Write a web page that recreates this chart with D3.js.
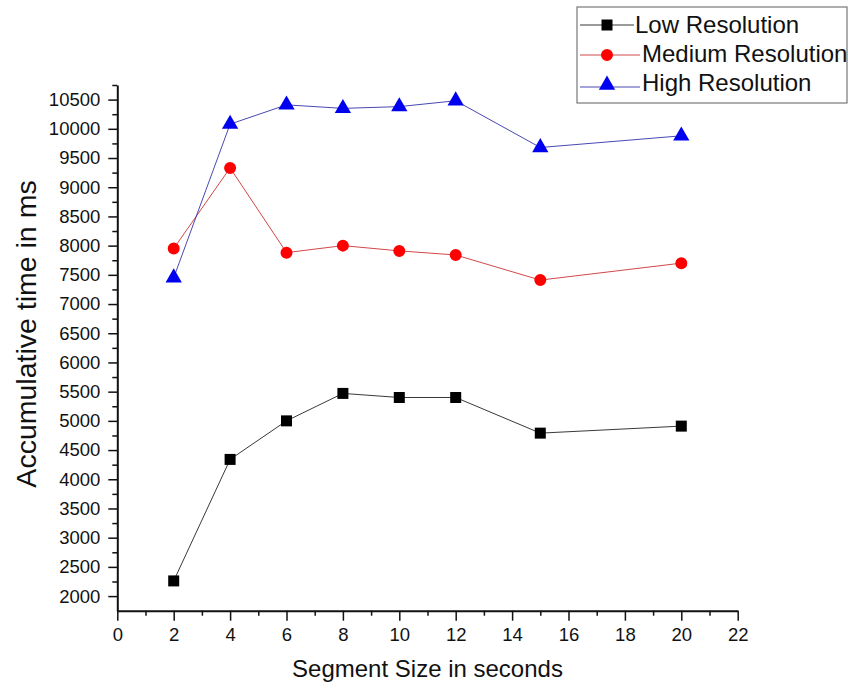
<!DOCTYPE html>
<html lang="en">
<head>
    <meta charset="UTF-8">
    <title>Accumulative time vs segment size</title>
    <script src="https://d3js.org/d3.v7.min.js"></script>
    <style>
        body {margin:0;background:#fff}
        text {font-family:"Liberation Sans", Arial, sans-serif;fill:#111}
    </style>
</head>
<body>
    <div id="chart"></div>
    <script>
        // data
        var segmentSizes = [2, 4, 6, 8, 10, 12, 15, 20];
        var lowRes = [2260, 4340, 5000, 5470, 5400, 5400, 4790, 4910];
        var mediumRes = [7950, 9330, 7880, 8000, 7910, 7840, 7410, 7700];
        var highRes = [7450, 10080, 10410, 10350, 10380, 10480, 9680, 9880];
        var seriesNames = ["Low Resolution", "Medium Resolution", "High Resolution"];

        var xMajor = d3.range(0, 23, 2);
        var xMinor = d3.range(1, 22, 2);
        var yMajor = d3.range(2000, 10501, 500);
        var yMinor = d3.range(2250, 10751, 500);

        var W = 848, H = 694;
        var margin = { top: 85, left: 117.3, right: 110.3, bottom: 83.3 };
        var w = W - margin.left - margin.right;
        var h = H - margin.top - margin.bottom;

        var svg = d3.select("#chart")
            .append("svg")
            .attr("width", W)
            .attr("height", H);

        var g = svg.append("g")
            .attr("transform", `translate(${margin.left},${margin.top})`);

        var xScale = d3.scaleLinear().domain([0, 22]).range([0, w]);
        var yScale = d3.scaleLinear().domain([1750, 10750]).range([h, 0]);

        // minor ticks first
        var xMin = g.append("g")
            .attr("transform", `translate(0,${h})`)
            .call(d3.axisBottom(xScale).tickValues(xMinor).tickSize(5).tickFormat(""));
        var yMin = g.append("g")
            .call(d3.axisLeft(yScale).tickValues(yMinor).tickSize(5).tickFormat(""));
        [xMin, yMin].forEach(function(a) {
            a.select(".domain").remove();
            a.selectAll("line").attr("stroke", "#111").attr("stroke-width", 1.5);
        });

        var xAxis = g.append("g")
            .attr("transform", `translate(0,${h})`)
            .call(d3.axisBottom(xScale).tickValues(xMajor).tickFormat(d3.format("d"))
                .tickSize(10).tickSizeOuter(0).tickPadding(7));
        var yAxis = g.append("g")
            .call(d3.axisLeft(yScale).tickValues(yMajor).tickFormat(d3.format("d"))
                .tickSize(9).tickSizeOuter(0).tickPadding(8));
        [xAxis, yAxis].forEach(function(a) {
            a.select(".domain").attr("stroke", "#111").attr("stroke-width", 2);
            a.selectAll("line").attr("stroke", "#111").attr("stroke-width", 1.5);
            a.selectAll("text")
                .style("font-size", "18.5px")
                .style("font-family", "'Liberation Sans', Arial, sans-serif")
                .attr("fill", "#111");
        });

        var series = [
            { name: seriesNames[0], values: lowRes, line: "#222", fill: "#000", shape: d3.symbolSquare, size: 121 },
            { name: seriesNames[1], values: mediumRes, line: "#c33", fill: "#f00", shape: d3.symbolCircle, size: 113 },
            { name: seriesNames[2], values: highRes, line: "#33a", fill: "#0000f0", shape: d3.symbolTriangle, size: 115 }
        ];

        var line = d3.line()
            .x(d => xScale(d[0]))
            .y(d => yScale(d[1]));

        series.forEach(function(s) {
            var pts = segmentSizes.map((x, i) => [x, s.values[i]]);
            g.append("path")
                .datum(pts)
                .attr("d", line)
                .attr("fill", "none")
                .attr("stroke", s.line)
                .attr("stroke-width", 0.9);
            g.selectAll(null)
                .data(pts)
                .enter()
                .append("path")
                .attr("d", d3.symbol().type(s.shape).size(s.size))
                .attr("transform", d => `translate(${xScale(d[0])},${yScale(d[1])})`)
                .attr("fill", s.fill);
        });

        // axis titles
        svg.append("text")
            .attr("x", margin.left + w / 2)
            .attr("y", 677)
            .attr("text-anchor", "middle")
            .style("font-size", "24px")
            .text("Segment Size in seconds");

        svg.append("text")
            .attr("transform", "translate(36,334) rotate(-90)")
            .attr("text-anchor", "middle")
            .style("font-size", "28.5px")
            .text("Accumulative time in ms");

        // legend
        var legend = svg.append("g");
        legend.append("rect")
            .attr("x", 577)
            .attr("y", 7)
            .attr("width", 270)
            .attr("height", 96)
            .attr("fill", "#fff")
            .attr("stroke", "#777")
            .attr("stroke-width", 1.2);

        var legendRows = [
            { lineY: 25, textY: 33, textX: 635, lineEnd: 634 },
            { lineY: 55, textY: 62, textX: 642, lineEnd: 640 },
            { lineY: 87, textY: 91, textX: 642, lineEnd: 640 }
        ];
        series.forEach(function(s, i) {
            var r = legendRows[i];
            legend.append("line")
                .attr("x1", 580).attr("x2", r.lineEnd)
                .attr("y1", r.lineY).attr("y2", r.lineY)
                .attr("stroke", s.line)
                .attr("stroke-width", 0.9);
            legend.append("path")
                .attr("d", d3.symbol().type(s.shape).size(s.size))
                .attr("transform", `translate(607,${i === 2 ? r.lineY - 2 : r.lineY})`)
                .attr("fill", s.fill);
            legend.append("text")
                .attr("x", r.textX)
                .attr("y", r.textY)
                .style("font-size", "24px")
                .text(s.name);
        });
    </script>
</body>
</html>
